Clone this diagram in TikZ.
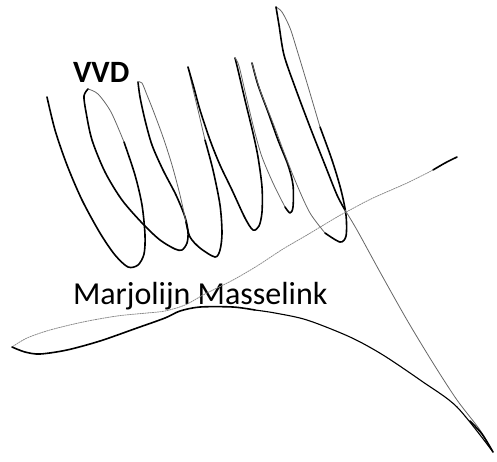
\documentclass[tikz,border=0pt]{standalone}
\usepackage{fontspec}
\setmainfont{Carlito}
\begin{document}
\begin{tikzpicture}[x=1pt,y=-1pt,
  ink/.style={line width=1.6pt, line cap=round, line join=round},
  faint/.style={line width=0.8pt, black!60, line cap=round, line join=round},
  dotty/.style={line width=0.8pt, black!45, dash pattern=on 1.5pt off 1pt, line cap=round},
  lbl/.style={anchor=base west, inner sep=0pt, outer sep=0pt}]
\useasboundingbox (0,0) rectangle (497,461);
% texts
\node[lbl] (vvd) at (73,82) {\fontsize{31}{31}\selectfont\bfseries VVD};
\node[lbl] (name) at (73,304) {\fontsize{32}{32}\selectfont Marjolijn Masselink};
% scribble
\draw[ink] plot[smooth] coordinates {(47,97) (55,130) (67,165) (82,200) (100,233) (115,255) (128,267) (138,265) (144,254) (145,235) (142,205) (135,175) (124,142)};
\draw[faint] plot[smooth] coordinates {(124,142) (111,112) (98,94) (88,89)};
\draw[ink] plot[smooth] coordinates {(88,89) (84,96) (86,112) (92,140) (105,172) (122,200) (143,224) (160,240) (175,249) (182,250) (187,243) (188,232) (185,217) (176,195) (163,170) (152,145) (145,120) (140,97) (138,82)};
\draw[faint] plot[smooth] coordinates {(138,82) (142,83) (147,95) (153,110) (163,137) (172,165) (180,195) (186,222)};
\draw[ink] plot[smooth] coordinates {(186,222) (190,237) (200,248) (215,257) (220,250) (222,233) (220,205) (213,170) (205,140)};
\draw[faint] plot[smooth] coordinates {(205,140) (198,110) (192,85) (188,67)};
\draw[ink] plot[smooth] coordinates {(188,67) (194,88) (200,110) (210,140) (220,165) (232,190) (245,218) (253,230) (259,226) (262,212) (262,187) (258,157) (253,133) (245,100) (238,70) (235,58)};
\draw[faint] plot[smooth] coordinates {(235,58) (239,66) (247,100) (255,133) (262,157) (273,183) (285,207)};
\draw[ink] plot[smooth] coordinates {(285,207) (290,213) (293,207) (293,185) (288,165) (278,140) (268,112) (258,85) (252,63)};
\draw[faint] plot[smooth] coordinates {(252,63) (260,90) (273,123) (285,155) (297,185) (310,213) (325,233)};
\draw[ink] plot[smooth] coordinates {(325,233) (340,242) (346,236) (346,215) (341,190) (332,160) (320,127)};
\draw[faint] plot[smooth] coordinates {(320,127) (307,83) (297,50) (290,28) (282,12) (276,7)};
\draw[ink] plot[smooth] coordinates {(276,7) (279,25) (284,55) (295,87) (310,127) (325,165) (337,195) (345,210)};
\draw[faint] plot[smooth] coordinates {(345,210) (357,230) (380,272) (407,320) (433,363) (457,400) (480,430) (493,452)};
% lens and lower sweep
\draw[ink] plot[smooth] coordinates {(457,157) (445,163) (433,170)};
\draw[dotty] plot[smooth] coordinates {(433,170) (407,183) (373,198) (350,210) (337,217) (307,235) (283,249) (257,266) (233,280) (205,294) (185,305) (165,311) (147,313) (117,316) (83,322) (50,330) (27,338) (12,347)};
\draw[ink] plot[smooth] coordinates {(12,347) (25,352) (40,354) (67,350) (100,341) (137,328) (165,318) (180,311) (200,307) (233,307) (255,310)};
\draw[line width=1.1pt, line cap=round] plot[smooth] coordinates {(255,310) (275,313) (307,320) (350,337) (383,355) (423,382) (457,407) (493,452)};
\draw[ink] plot[smooth] coordinates {(470,421) (482,434) (493,452)};
\end{tikzpicture}
\end{document}
